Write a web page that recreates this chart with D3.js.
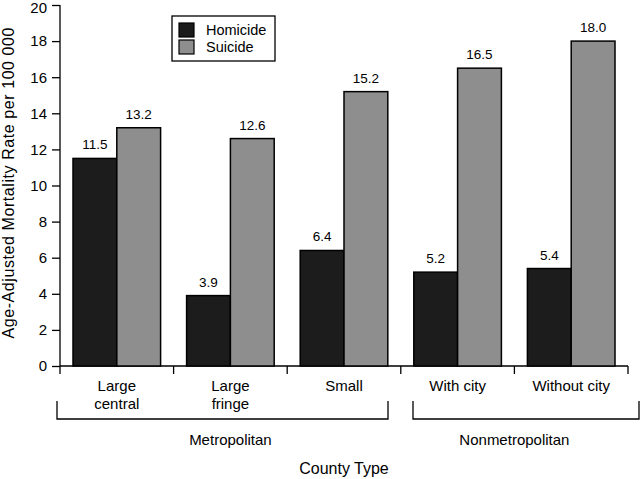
<!DOCTYPE html>
<html><head><meta charset="utf-8">
<script src="https://cdn.jsdelivr.net/npm/d3@7"></script>
<style>body{margin:0;background:#fff}svg{display:block}text{font-family:"Liberation Sans",Arial,Helvetica,sans-serif;fill:#000}</style>
</head><body>
<script>
const categories = ["Large central","Large fringe","Small","With city","Without city"];
const categoryLines = [["Large","central"],["Large","fringe"],["Small"],["With city"],["Without city"]];
const seriesNames = ["Homicide","Suicide"];
const homicide = [11.5, 3.9, 6.4, 5.2, 5.4];
const suicide = [13.2, 12.6, 15.2, 16.5, 18.0];
const yTicks = [0,2,4,6,8,10,12,14,16,18,20];
const groups = [{name:"Metropolitan", from:0, to:2},{name:"Nonmetropolitan", from:3, to:4}];
const colors = ["#1c1c1c","#8e8e8e"];

const W=640,H=479;
const svg=d3.select("body").append("svg").attr("width",W).attr("height",H);
const x=d3.scaleBand().domain(categories).range([60,628]).paddingInner(0).paddingOuter(0);
const x1=d3.scaleBand().domain(seriesNames).range([13,x.bandwidth()-13]);
const y=d3.scaleLinear().domain([0,20]).range([366,5]);

// y axis
const ya=svg.append("g").attr("transform","translate(60,0)").call(d3.axisLeft(y).tickValues(yTicks).tickSize(8).tickPadding(5));
ya.selectAll("text").attr("font-size",15).style("font-family","Liberation Sans, Arial, sans-serif");
ya.selectAll(".tick text").filter(d=>d===20).attr("dy","0.5em");
ya.select(".domain").attr("stroke","#000").attr("stroke-width",1.3).attr("d","M0,"+y(20)+"V"+y(0));
ya.selectAll(".tick line").attr("stroke-width",1.3);

// x axis
const xa=svg.append("g").attr("transform","translate(0,366)");
xa.append("line").attr("x1",60).attr("x2",628).attr("y1",0).attr("y2",0).attr("stroke","#000").attr("stroke-width",1.3);
const bounds=[...categories.map(c=>x(c)), x(categories[categories.length-1])+x.bandwidth()];
xa.selectAll("line.tk").data(bounds).join("line").attr("class","tk")
  .attr("x1",d=>d).attr("x2",d=>d).attr("y1",0).attr("y2",8).attr("stroke","#000").attr("stroke-width",1.3);

// bars
const data=categories.map((c,i)=>({c,vals:[homicide[i],suicide[i]]}));
const g=svg.append("g").selectAll("g").data(data).join("g").attr("transform",d=>`translate(${x(d.c)},0)`);
g.selectAll("rect").data(d=>d.vals.map((v,j)=>({v,s:seriesNames[j],j}))).join("rect")
  .attr("x",d=>x1(d.s)).attr("width",x1.bandwidth()).attr("y",d=>y(d.v)).attr("height",d=>y(0)-y(d.v))
  .attr("fill",d=>colors[d.j]).attr("stroke","#000").attr("stroke-width",1.5);
g.selectAll("text.val").data(d=>d.vals.map((v,j)=>({v,s:seriesNames[j]}))).join("text").attr("class","val")
  .attr("x",d=>x1(d.s)+x1.bandwidth()/2).attr("y",d=>y(d.v)-9).attr("text-anchor","middle").attr("font-size",13.5)
  .text(d=>d.v.toFixed(1));

// category labels
categories.forEach((c,i)=>{
  const t=svg.append("text").attr("x",x(c)+x.bandwidth()/2).attr("y",391).attr("text-anchor","middle").attr("font-size",15);
  categoryLines[i].forEach((l,k)=>t.append("tspan").attr("x",x(c)+x.bandwidth()/2).attr("dy",k?17.5:0).text(l));
});

// group brackets
const brk=[[57,388],[413,639]];
groups.forEach((gr,i)=>{
  const [a,b]=brk[i];
  svg.append("path").attr("d",`M${a},401V419H${b}V401`).attr("fill","none").attr("stroke","#000").attr("stroke-width",1.3);
  const cx=(x(categories[gr.from])+x(categories[gr.to])+x.bandwidth())/2;
  svg.append("text").attr("x",cx).attr("y",445).attr("text-anchor","middle").attr("font-size",15).text(gr.name);
});

svg.append("text").attr("x",344).attr("y",474).attr("text-anchor","middle").attr("font-size",16).text("County Type");
svg.append("text").attr("transform","translate(14,183) rotate(-90)").attr("text-anchor","middle").attr("font-size",16)
  .attr("textLength",311).attr("lengthAdjust","spacing").text("Age-Adjusted Mortality Rate per 100 000");

// legend
const lg=svg.append("g");
lg.append("rect").attr("x",172).attr("y",16).attr("width",103).attr("height",45).attr("fill","#fff").attr("stroke","#000").attr("stroke-width",1.3);
seriesNames.forEach((s,i)=>{
  lg.append("rect").attr("x",179).attr("y",23+i*17).attr("width",15).attr("height",14).attr("fill",colors[i]).attr("stroke","#000").attr("stroke-width",1.2);
  lg.append("text").attr("x",206).attr("y",35+i*17).attr("font-size",14.5).text(s);
});
</script>
</body></html>
